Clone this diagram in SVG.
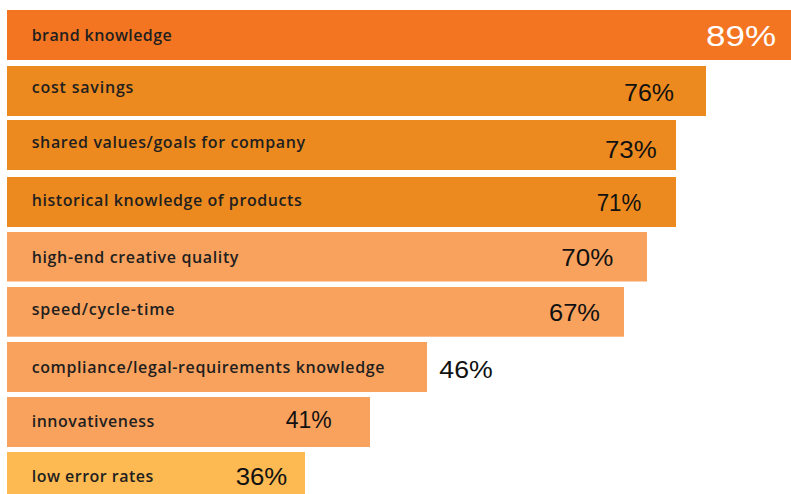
<svg xmlns="http://www.w3.org/2000/svg" width="791" height="494" viewBox="0 0 791 494">
<style>
.lbl{font-family:"Open Sans","Liberation Sans",sans-serif;font-size:16px;font-weight:600;fill:#1f1f1f;}
.pct{font-family:"Liberation Sans",Arial,sans-serif;font-size:24px;fill:#111;}
.c1{fill:#F47521;}
.c2{fill:#EC8A1F;}
.c3{fill:#F9A25E;}
.c4{fill:#FDBA52;}
</style>
<rect width="791" height="494" fill="#fff"/>
<g id="bar-brand-knowledge">
<rect class="c1" x="7" y="10" width="784" height="50"/>
<text class="lbl" x="31.7" y="41" textLength="140" lengthAdjust="spacing">brand knowledge</text>
<text class="pct" x="706" y="45.7" style="font-size:29px;fill:#fff" textLength="70" lengthAdjust="spacingAndGlyphs">89%</text>
</g>
<g id="bar-cost-savings">
<rect class="c2" x="7" y="66" width="699" height="50"/>
<text class="lbl" x="31.7" y="92.7" textLength="101.7" lengthAdjust="spacing">cost savings</text>
<text class="pct" x="624" y="100.7" textLength="50" lengthAdjust="spacingAndGlyphs">76%</text>
</g>
<g id="bar-shared-values">
<rect class="c2" x="7" y="120" width="669" height="50"/>
<text class="lbl" x="31.7" y="148.3" textLength="273.3" lengthAdjust="spacing">shared values/goals for company</text>
<text class="pct" x="605" y="158.3" textLength="51.7" lengthAdjust="spacingAndGlyphs">73%</text>
</g>
<g id="bar-historical-knowledge">
<rect class="c2" x="7" y="177" width="669" height="50"/>
<text class="lbl" x="31.7" y="206" textLength="270" lengthAdjust="spacing">historical knowledge of products</text>
<text class="pct" x="596.7" y="211" textLength="44.6" lengthAdjust="spacingAndGlyphs">71%</text>
</g>
<g id="bar-high-end-creative">
<rect class="c3" x="7" y="232" width="640" height="49.5"/>
<text class="lbl" x="31.7" y="263" textLength="206.7" lengthAdjust="spacing">high-end creative quality</text>
<text class="pct" x="561.3" y="266" textLength="52" lengthAdjust="spacingAndGlyphs">70%</text>
</g>
<g id="bar-speed">
<rect class="c3" x="7" y="287" width="617" height="49.7"/>
<text class="lbl" x="31.7" y="315.3" textLength="142.7" lengthAdjust="spacing">speed/cycle-time</text>
<text class="pct" x="549" y="321" textLength="51" lengthAdjust="spacingAndGlyphs">67%</text>
</g>
<g id="bar-compliance">
<rect class="c3" x="7" y="342" width="420" height="50"/>
<text class="lbl" x="31.7" y="373.3" textLength="352.7" lengthAdjust="spacing">compliance/legal-requirements knowledge</text>
<text class="pct" x="439.3" y="378.3" textLength="53.4" lengthAdjust="spacingAndGlyphs">46%</text>
</g>
<g id="bar-innovativeness">
<rect class="c3" x="7" y="397" width="363" height="50"/>
<text class="lbl" x="31.7" y="426.7" textLength="122.6" lengthAdjust="spacing">innovativeness</text>
<text class="pct" x="285.7" y="427.7" textLength="46" lengthAdjust="spacingAndGlyphs">41%</text>
</g>
<g id="bar-low-error-rates">
<rect class="c4" x="7" y="452" width="298" height="42"/>
<text class="lbl" x="31.7" y="481.7" textLength="121.6" lengthAdjust="spacing">low error rates</text>
<text class="pct" x="235.7" y="485" textLength="51.6" lengthAdjust="spacingAndGlyphs">36%</text>
</g>
<g id="connectors"/>
</svg>
